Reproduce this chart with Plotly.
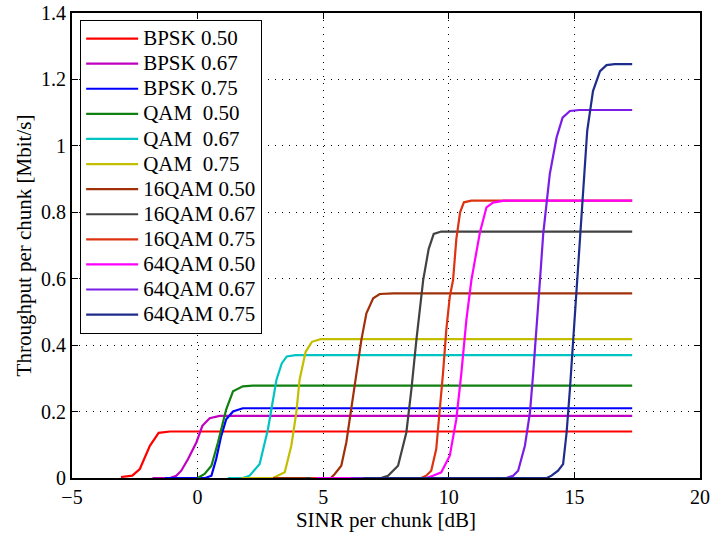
import plotly.graph_objects as go

X_END = 17.3

names = ["BPSK 0.50", "BPSK 0.67", "BPSK 0.75",
         "QAM\u00a0\u00a00.50", "QAM\u00a0\u00a00.67", "QAM\u00a0\u00a00.75",
         "16QAM 0.50", "16QAM 0.67", "16QAM 0.75",
         "64QAM 0.50", "64QAM 0.67", "64QAM 0.75"]
colors = ["#ff0000", "#c000c0", "#0000ff",
          "#108010", "#00c4c4", "#c4be00",
          "#a0300a", "#424242", "#dd3311",
          "#ff00ff", "#7a1de6", "#1e2d8c"]

bpsk050_x = [-3.05, -2.6, -2.3, -2.15, -1.9, -1.55, -1.1, X_END]
bpsk050_y = [0.003, 0.007, 0.027, 0.052, 0.097, 0.136, 0.14, 0.14]

bpsk067_x = [-1.8, -1.1, -0.85, -0.65, -0.38, -0.05, 0.19, 0.48, 0.88, X_END]
bpsk067_y = [0.0, 0.0, 0.007, 0.022, 0.057, 0.107, 0.157, 0.18, 0.187, 0.187]

bpsk075_x = [-1.3, 0.3, 0.55, 0.74, 0.94, 1.14, 1.41, 1.8, X_END]
bpsk075_y = [0.0, 0.0, 0.007, 0.057, 0.127, 0.177, 0.2, 0.21, 0.21]

qam050_x = [0.0, 0.28, 0.55, 0.81, 1.14, 1.41, 1.8, 2.2, X_END]
qam050_y = [0.0, 0.012, 0.037, 0.107, 0.207, 0.261, 0.276, 0.278, 0.278]

qam067_x = [1.2, 1.8, 2.07, 2.47, 2.8, 3.14, 3.35, 3.55, 3.9, X_END]
qam067_y = [0.0, 0.0, 0.007, 0.042, 0.147, 0.296, 0.345, 0.366, 0.37, 0.37]

qam075_x = [1.75, 3.0, 3.47, 3.73, 3.93, 4.06, 4.3, 4.55, 4.9, X_END]
qam075_y = [0.0, 0.0, 0.017, 0.097, 0.197, 0.296, 0.38, 0.41, 0.418, 0.418]

qam16_050_x = [3.0, 5.3, 5.46, 5.72, 5.92, 6.12, 6.32, 6.52, 6.72, 6.99, 7.25, 7.8, X_END]
qam16_050_y = [0.0, 0.0, 0.012, 0.037, 0.107, 0.207, 0.316, 0.416, 0.496, 0.541, 0.554, 0.556, 0.556]

qam16_067_x = [4.3, 7.3, 7.58, 7.98, 8.31, 8.51, 8.71, 8.98, 9.2, 9.4, 9.7, X_END]
qam16_067_y = [0.0, 0.0, 0.007, 0.037, 0.137, 0.266, 0.416, 0.596, 0.69, 0.735, 0.742, 0.742]

qam16_075_x = [4.5, 8.9, 9.1, 9.3, 9.5, 9.64, 9.77, 9.9, 10.04, 10.17, 10.3, 10.45, 10.6, 10.9, X_END]
qam16_075_y = [0.0, 0.0, 0.007, 0.022, 0.087, 0.197, 0.316, 0.446, 0.546, 0.596, 0.72, 0.8, 0.83, 0.835, 0.835]

qam64_050_x = [4.7, 9.1, 9.37, 9.7, 10.04, 10.3, 10.5, 10.7, 10.9, 11.24, 11.5, 11.76, 12.2, X_END]
qam64_050_y = [0.0, 0.0, 0.007, 0.017, 0.067, 0.177, 0.316, 0.476, 0.596, 0.74, 0.815, 0.829, 0.835, 0.835]

qam64_067_x = [6.1, 12.3, 12.56, 12.76, 13.03, 13.23, 13.36, 13.49, 13.63, 13.76, 13.89, 14.02, 14.29, 14.53, 14.82, 15.2, X_END]
qam64_067_y = [0.0, 0.0, 0.007, 0.022, 0.097, 0.197, 0.316, 0.466, 0.596, 0.736, 0.835, 0.915, 1.025, 1.085, 1.105, 1.108, 1.108]

qam64_075_x = [6.6, 13.9, 14.09, 14.35, 14.55, 14.69, 14.82, 14.95, 15.09, 15.22, 15.35, 15.51, 15.74, 16.02, 16.28, 16.6, X_END]
qam64_075_y = [0.0, 0.0, 0.007, 0.022, 0.042, 0.137, 0.266, 0.416, 0.566, 0.716, 0.865, 1.045, 1.165, 1.225, 1.243, 1.246, 1.246]

series_x = [bpsk050_x, bpsk067_x, bpsk075_x, qam050_x, qam067_x, qam075_x,
            qam16_050_x, qam16_067_x, qam16_075_x, qam64_050_x, qam64_067_x, qam64_075_x]
series_y = [bpsk050_y, bpsk067_y, bpsk075_y, qam050_y, qam067_y, qam075_y,
            qam16_050_y, qam16_067_y, qam16_075_y, qam64_050_y, qam64_067_y, qam64_075_y]

x_ticks = [-5, 0, 5, 10, 15, 20]
y_ticks = [0, 0.2, 0.4, 0.6, 0.8, 1, 1.2, 1.4]
y_tick_text = ["0", "0.2", "0.4", "0.6", "0.8", "1", "1.2", "1.4"]

FONT = "Liberation Serif, Times New Roman, serif"

fig = go.Figure()
for name, col, xs, ys in zip(names, colors, series_x, series_y):
    fig.add_trace(go.Scatter(x=xs, y=ys, mode="lines",
                             name='<span style="font-size:21px">' + name + '</span>',
                             line=dict(color=col, width=2.2)))

axis_common = dict(
    showline=True, linecolor="black", linewidth=2, mirror="allticks",
    ticks="inside", ticklen=6, tickwidth=1, tickcolor="black",
    showgrid=True, gridcolor="black", gridwidth=1, griddash="1px,6px",
    zeroline=False, layer="below traces", automargin=False,
    tickfont=dict(family=FONT, size=20, color="black"),
)

fig.update_xaxes(range=[-5, 20], tickvals=x_ticks,
                 title=dict(text="SINR per chunk [dB]", font=dict(family=FONT, size=21, color="black"), standoff=2),
                 **axis_common)
fig.update_yaxes(range=[0, 1.4], tickvals=y_ticks, ticktext=y_tick_text,
                 title=dict(text="Throughput per chunk [Mbit/s]", font=dict(family=FONT, size=21, color="black"), standoff=4),
                 **axis_common)

fig.update_layout(
    template="none",
    width=713, height=534,
    margin=dict(l=72, r=13, t=13, b=56),
    plot_bgcolor="white", paper_bgcolor="white",
    font=dict(family=FONT, color="black"),
    legend=dict(x=0.013, y=0.985, xanchor="left", yanchor="top",
                bgcolor="white", bordercolor="black", borderwidth=1,
                font=dict(family=FONT, size=17, color="black"),
                tracegroupgap=0, itemwidth=52),
    showlegend=True,
)

fig.write_html("out.html")
